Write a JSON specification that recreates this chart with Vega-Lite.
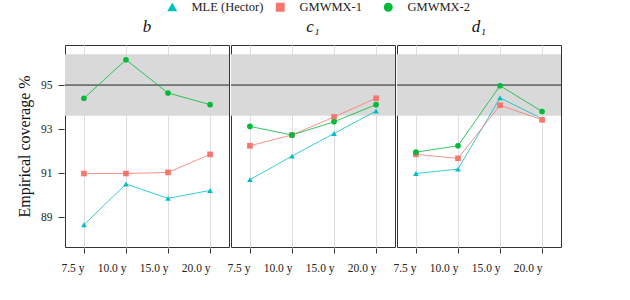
{
  "$schema": "https://vega.github.io/schema/vega-lite/v6.json",
  "padding": {"left": 16, "top": 1, "right": 5, "bottom": 5},
  "data": {"values": [
    {"param":"b","horizon":"7.5 y","method":"MLE (Hector)","cov":88.65},
    {"param":"b","horizon":"10.0 y","method":"MLE (Hector)","cov":90.5},
    {"param":"b","horizon":"15.0 y","method":"MLE (Hector)","cov":89.85},
    {"param":"b","horizon":"20.0 y","method":"MLE (Hector)","cov":90.21},
    {"param":"b","horizon":"7.5 y","method":"GMWMX-1","cov":90.98},
    {"param":"b","horizon":"10.0 y","method":"GMWMX-1","cov":90.98},
    {"param":"b","horizon":"15.0 y","method":"GMWMX-1","cov":91.03},
    {"param":"b","horizon":"20.0 y","method":"GMWMX-1","cov":91.85},
    {"param":"b","horizon":"7.5 y","method":"GMWMX-2","cov":94.4},
    {"param":"b","horizon":"10.0 y","method":"GMWMX-2","cov":96.15},
    {"param":"b","horizon":"15.0 y","method":"GMWMX-2","cov":94.64},
    {"param":"b","horizon":"20.0 y","method":"GMWMX-2","cov":94.11},
    {"param":"c₁","horizon":"7.5 y","method":"MLE (Hector)","cov":90.7},
    {"param":"c₁","horizon":"10.0 y","method":"MLE (Hector)","cov":91.77},
    {"param":"c₁","horizon":"15.0 y","method":"MLE (Hector)","cov":92.8},
    {"param":"c₁","horizon":"20.0 y","method":"MLE (Hector)","cov":93.82},
    {"param":"c₁","horizon":"7.5 y","method":"GMWMX-1","cov":92.24},
    {"param":"c₁","horizon":"10.0 y","method":"GMWMX-1","cov":92.73},
    {"param":"c₁","horizon":"15.0 y","method":"GMWMX-1","cov":93.55},
    {"param":"c₁","horizon":"20.0 y","method":"GMWMX-1","cov":94.4},
    {"param":"c₁","horizon":"7.5 y","method":"GMWMX-2","cov":93.12},
    {"param":"c₁","horizon":"10.0 y","method":"GMWMX-2","cov":92.73},
    {"param":"c₁","horizon":"15.0 y","method":"GMWMX-2","cov":93.33},
    {"param":"c₁","horizon":"20.0 y","method":"GMWMX-2","cov":94.11},
    {"param":"d₁","horizon":"7.5 y","method":"MLE (Hector)","cov":90.98},
    {"param":"d₁","horizon":"10.0 y","method":"MLE (Hector)","cov":91.18},
    {"param":"d₁","horizon":"15.0 y","method":"MLE (Hector)","cov":94.42},
    {"param":"d₁","horizon":"20.0 y","method":"MLE (Hector)","cov":93.47},
    {"param":"d₁","horizon":"7.5 y","method":"GMWMX-1","cov":91.85},
    {"param":"d₁","horizon":"10.0 y","method":"GMWMX-1","cov":91.67},
    {"param":"d₁","horizon":"15.0 y","method":"GMWMX-1","cov":94.08},
    {"param":"d₁","horizon":"20.0 y","method":"GMWMX-1","cov":93.42},
    {"param":"d₁","horizon":"7.5 y","method":"GMWMX-2","cov":91.95},
    {"param":"d₁","horizon":"10.0 y","method":"GMWMX-2","cov":92.24},
    {"param":"d₁","horizon":"15.0 y","method":"GMWMX-2","cov":94.97},
    {"param":"d₁","horizon":"20.0 y","method":"GMWMX-2","cov":93.8}
  ]},
  "facet": {"column": {"field": "param", "type": "nominal", "sort": ["b", "c₁", "d₁"], "title": null,
    "header": {"labelFont": "Liberation Serif", "labelFontStyle": "italic", "labelFontSize": 17, "labelColor": "#111", "labelPadding": 8}}},
  "spacing": 0,
  "spec": {
    "width": 164,
    "height": 202,
    "layer": [
      {
        "transform": [{"aggregate": [{"op": "count", "as": "n"}], "groupby": ["param"]}],
        "mark": {"type": "rect", "color": "#d9d9d9"},
        "encoding": {"y": {"datum": 93.6, "type": "quantitative"}, "y2": {"datum": 96.4}}
      },
      {
        "transform": [{"aggregate": [{"op": "count", "as": "n"}], "groupby": ["param"]}],
        "mark": {"type": "rule", "color": "#222", "strokeWidth": 1},
        "encoding": {"y": {"datum": 95, "type": "quantitative"}}
      },
      {
        "mark": {"type": "line", "strokeWidth": 0.8},
        "encoding": {
          "x": {"field": "horizon", "type": "ordinal", "sort": ["7.5 y", "10.0 y", "15.0 y", "20.0 y"]},
          "y": {"field": "cov", "type": "quantitative"},
          "color": {"field": "method", "type": "nominal"},
          "detail": {"field": "method"}
        }
      },
      {
        "mark": {"type": "point", "filled": true, "opacity": 1, "size": 32},
        "encoding": {
          "x": {"field": "horizon", "type": "ordinal", "sort": ["7.5 y", "10.0 y", "15.0 y", "20.0 y"],
            "scale": {"type": "point", "padding": 0.45},
            "axis": {"title": null, "labelAngle": 0, "grid": true, "domain": false, "labelPadding": 15, "tickSize": 5, "labelFont": "Liberation Serif", "labelFontSize": 11.5}},
          "y": {"field": "cov", "type": "quantitative",
            "scale": {"domain": [87.64, 96.82], "nice": false, "zero": false},
            "axis": {"values": [89, 91, 93, 95], "title": "Empirical coverage %", "domain": false, "tickSize": 6, "labelPadding": 6, "labelFont": "Liberation Serif", "labelFontSize": 11.5, "titleFont": "Liberation Serif", "titlePadding": 8, "titleFontSize": 16, "titleFontWeight": "normal", "titleColor": "#111"}},
          "color": {"field": "method", "type": "nominal",
            "scale": {"domain": ["MLE (Hector)", "GMWMX-1", "GMWMX-2"], "range": ["#00BFC4", "#F8766D", "#00BA38"]},
            "legend": {"title": null, "orient": "none", "legendX": 101, "legendY": -44, "direction": "horizontal", "columns": 3, "gridAlign": "all", "symbolSize": 55, "labelFont": "Liberation Serif", "labelFontSize": 12.5, "columnPadding": 9, "labelOffset": 13}},
          "shape": {"field": "method", "type": "nominal",
            "scale": {"domain": ["MLE (Hector)", "GMWMX-1", "GMWMX-2"], "range": ["triangle-up", "square", "circle"]},
            "legend": {"title": null, "orient": "none", "legendX": 101, "legendY": -44, "direction": "horizontal", "labelFont": "Liberation Serif"}}
        }
      }
    ]
  },
  "config": {
    "font": "Liberation Serif",
    "view": {"stroke": "#333", "strokeWidth": 1},
    "axis": {"labelFont": "Liberation Serif", "titleFont": "Liberation Serif", "labelColor": "#222", "tickColor": "#333", "gridColor": "#dedede", "gridWidth": 1},
    "legend": {"labelFont": "Liberation Serif", "labelColor": "#222"}
  }
}
